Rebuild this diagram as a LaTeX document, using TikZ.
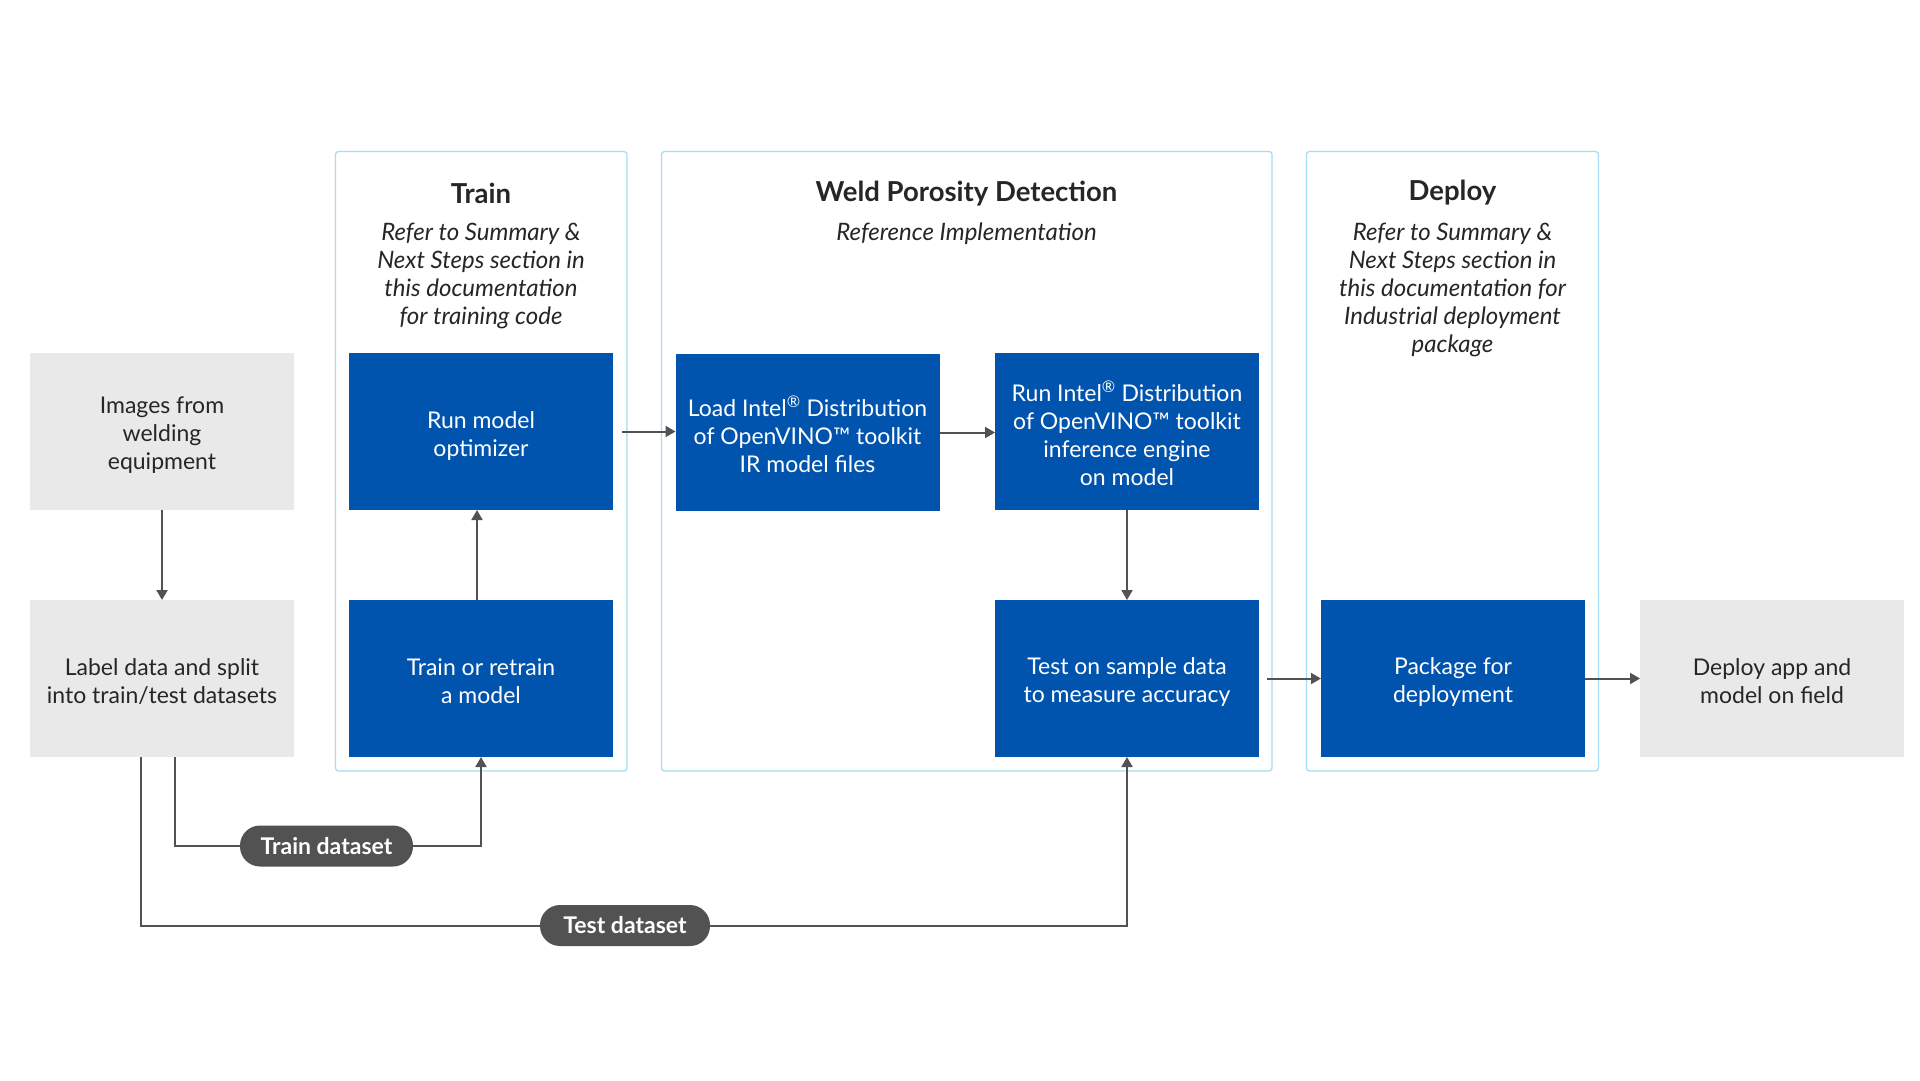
\documentclass[tikz,border=0pt]{standalone}
\usepackage{fontspec}
\setmainfont{Lato}
\usetikzlibrary{arrows.meta}
\definecolor{iblue}{HTML}{0054AE}
\definecolor{igrey}{HTML}{E9E9E9}
\definecolor{ipanel}{HTML}{A5DDF3}
\definecolor{iline}{HTML}{525252}
\definecolor{itext}{HTML}{262626}
\tikzset{
 boxbase/.style={rectangle, inner sep=0pt, outer sep=0pt, minimum width=264pt, minimum height=157pt},
 bluebox/.style={boxbase, fill=iblue},
 greybox/.style={boxbase, fill=igrey},
 btext/.style={inner sep=0pt, align=center, font=\fontsize{23}{28}\selectfont, text=white},
 gtext/.style={btext, text=itext},
 panel/.style={draw=ipanel, line width=1.3pt, rounded corners=3pt, inner sep=0pt, outer sep=0pt},
 paneltitle/.style={font=\bfseries\fontsize{27.5}{30}\selectfont, text=itext, inner sep=0pt},
 panelnote/.style={font=\itshape\fontsize{24}{28}\selectfont, text=itext, align=center, inner sep=0pt},
 conn/.style={draw=iline, line width=2pt},
 arr/.style={conn, -{Triangle[length=10pt,width=11pt]}},
 pill/.style={fill=iline, text=white, rounded corners=20pt, minimum height=41pt, font=\bfseries\fontsize{23}{26}\selectfont, inner sep=0pt}
}
\begin{document}
\begin{tikzpicture}[x=1pt,y=-1pt]
\useasboundingbox[fill=white] (0,0) rectangle (1920,1080);
% panels
\node[panel, minimum width=291.5pt, minimum height=619.5pt] (trainpanel) at (481.25,461.25) {};
\node[panel, minimum width=610.5pt, minimum height=619.5pt] (wpdpanel) at (966.75,461.25) {};
\node[panel, minimum width=292pt, minimum height=619.5pt] (deploypanel) at (1452.5,461.25) {};
% panel titles
\node[paneltitle] (traintitle) at (481,193) {Train};
\node[panelnote] (trainnote) at (481,276) {Refer to Summary \&\\Next Steps section in\\this documentation\\for training code};
\node[paneltitle] (wpdtitle) at (966.5,194) {Weld Porosity Detection};
\node[panelnote] (wpdnote) at (966.5,234) {Reference Implementation};
\node[paneltitle] (deploytitle) at (1452.5,193) {Deploy};
\node[panelnote] (deploynote) at (1452.5,290) {Refer to Summary \&\\Next Steps section in\\this documentation for\\Industrial deployment\\package};
% boxes
\node[greybox] (img) at (162,431.5) {};
\node[gtext] (imgtext) at ([yshift=-4pt]img.center) {Images from\\welding\\equipment};
\node[greybox] (label) at (162,678.5) {};
\node[gtext] (labeltext) at ([yshift=-3pt]label.center) {Label data and split\\into train/test datasets};
\node[bluebox] (runopt) at (481,431.5) {};
\node[btext] (runopttext) at ([yshift=-4pt]runopt.center) {Run model\\optimizer};
\node[bluebox] (train) at (481,678.5) {};
\node[btext] (traintext) at ([yshift=-3pt]train.center) {Train or retrain\\a model};
\node[bluebox] (load) at (807.5,432.5) {};
\node[btext] (loadtext) at ([yshift=-2pt]load.center) {Load Intel\textsuperscript{®} Distribution\\of OpenVINO™ toolkit\\IR model files};
\node[bluebox] (runint) at (1127,431.5) {};
\node[btext] (runinttext) at ([yshift=-2pt]runint.center) {Run Intel\textsuperscript{®} Distribution\\of OpenVINO™ toolkit\\inference engine\\on model};
\node[bluebox] (test) at (1127,678.5) {};
\node[btext] (testtext) at ([yshift=-3pt]test.center) {Test on sample data\\to measure accuracy};
\node[bluebox] (pack) at (1453,678.5) {};
\node[btext] (packtext) at ([yshift=-3pt]pack.center) {Package for\\deployment};
\node[greybox] (deployapp) at (1772,678.5) {};
\node[gtext] (deployapptext) at ([yshift=-3pt]deployapp.center) {Deploy app and\\model on field};
% connectors
\draw[arr] (img) -- (label);
\draw[arr] ([xshift=-4pt]train.north) -- ([xshift=-4pt]runopt.south);
\draw[arr] ([xshift=9pt]runopt.east) -- (load.west |- runopt.east);
\draw[arr] (load.east) -- (runint.west |- load.east);
\draw[arr] (runint) -- (test);
\draw[arr] ([xshift=8pt]test.east) -- (pack.west);
\draw[arr] (pack) -- (deployapp);
% dataset lines
\coordinate (trlevel) at (0,846);
\coordinate (televel) at (0,925.5);
\coordinate (trcorner) at (train.south |- trlevel);
\coordinate (tecorner) at (test.south |- televel);
\draw[arr] ([xshift=13pt]label.south) |- (trcorner) -- (train.south);
\draw[arr] ([xshift=-21.5pt]label.south) |- (tecorner) -- (test.south);
\node[pill, minimum width=173pt] (trpill) at (326.5,846) {Train dataset};
\node[pill, minimum width=170pt] (tepill) at (625,925.5) {Test dataset};
\end{tikzpicture}
\end{document}
